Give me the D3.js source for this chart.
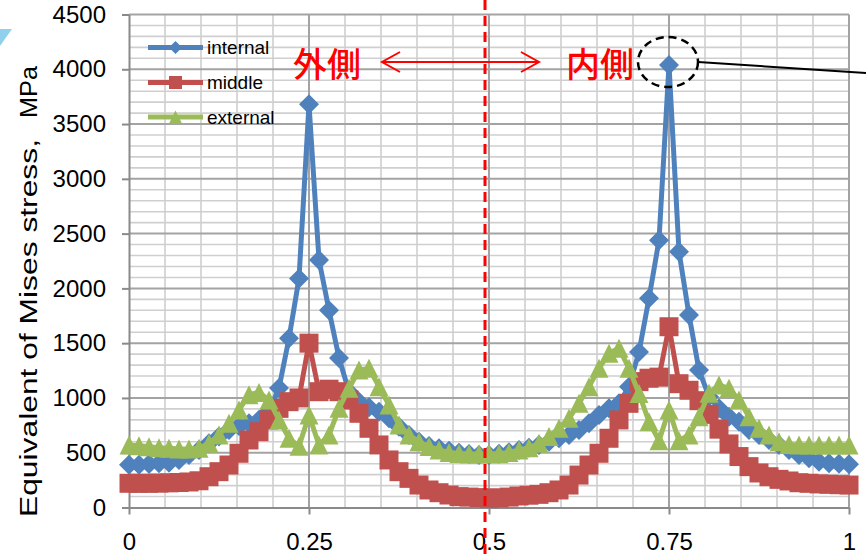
<!DOCTYPE html>
<html>
<head>
<meta charset="utf-8">
<script src="https://cdn.jsdelivr.net/npm/d3@7"></script>
<style>
  body { margin: 0; background: #fff; }
  svg { display: block; font-family: "Liberation Sans", Arial, sans-serif; }
  .grid-minor { stroke: #cfcfcf; stroke-width: 1.6; }
  .grid-major { stroke: #a3a3a3; stroke-width: 2; }
  .axis path, .axis line { stroke: #8a8a8a; stroke-width: 2; }
  .axis text { font-size: 24px; fill: #000; font-family: "Liberation Sans", Arial, sans-serif; }
</style>
</head>
<body>
<svg id="chart" width="866" height="556"></svg>
<script>
// data (5 degree steps, x = position around the ring, 0..1)
const xTicks = [0, 0.25, 0.5, 0.75, 1];
const xTickLabels = ['0', '0.25', '0.5', '0.75', '1'];
const yTicks = [0, 500, 1000, 1500, 2000, 2500, 3000, 3500, 4000, 4500];
const seriesNames = ['internal', 'middle', 'external'];

const internal = [390, 390, 397, 403, 409, 434, 479, 525, 586, 647,
  707, 744, 768, 800, 880, 1090, 1545, 2090, 3680, 2260,
  1800, 1365, 1057, 966, 914, 875, 814, 738, 662, 601,
  561, 540, 519, 500, 488, 479, 480, 490, 505, 525,
  545, 570, 601, 631, 662, 707, 768, 844, 905, 951,
  1103, 1420, 1910, 2440, 4040, 2335, 1757, 1255, 1012, 905,
  829, 783, 707, 662, 616, 570, 525, 479, 449, 418,
  403, 400, 395];

const middle = [221, 221, 221, 223, 225, 228, 233, 244, 281, 327,
  388, 495, 616, 692, 799, 905, 966, 1000, 1500, 1057,
  1080, 1057, 981, 860, 723, 571, 434, 327, 266, 205,
  160, 135, 114, 99, 95, 90, 85, 88, 95, 105,
  112, 120, 135, 160, 205, 296, 388, 495, 632, 799,
  951, 1149, 1180, 1190, 1650, 1130, 1070, 975, 850, 715,
  580, 465, 373, 315, 281, 257, 242, 226, 221, 215,
  212, 208, 205];

const external = [570, 564, 555, 545, 540, 534, 534, 540, 586, 662,
  768, 890, 1030, 1050, 981, 799, 631, 560, 844, 570,
  662, 905, 1088, 1255, 1270, 1103, 936, 753, 662, 601,
  556, 525, 503, 494, 488, 488, 490, 490, 503, 525,
  546, 586, 647, 723, 814, 951, 1103, 1270, 1407, 1453,
  1270, 1040, 783, 610, 890, 610, 662, 829, 1042, 1118,
  1088, 981, 829, 723, 662, 601, 576, 570, 570, 570,
  570, 570, 570];

const yTitle = 'Equivalent of Mises stress,';
const yUnit = 'MPa';

const svg = d3.select('#chart');

const x = d3.scaleLinear().domain([0, 1]).range([129, 849]);
const y = d3.scaleLinear().domain([0, 4500]).range([507.5, 14.5]);

// small decoration at top left corner
svg.append('polygon')
  .attr('points', '0,29 12,29 0,46')
  .attr('fill', '#8fd0ec');

// grid
const grid = svg.append('g');
grid.selectAll('.hmin')
  .data(d3.range(100, 4500, 100).filter(v => v % 500 !== 0))
  .join('line')
  .attr('class', 'grid-minor')
  .attr('x1', x(0)).attr('x2', x(1))
  .attr('y1', d => y(d)).attr('y2', d => y(d));
grid.selectAll('.vmin')
  .data(d3.range(1, 20).map(k => k / 20).filter(v => Math.round(v * 20) % 5 !== 0))
  .join('line')
  .attr('class', 'grid-minor')
  .attr('x1', d => x(d)).attr('x2', d => x(d))
  .attr('y1', y(4500)).attr('y2', y(0));
grid.selectAll('.vmaj')
  .data(xTicks.slice(1))
  .join('line')
  .attr('class', 'grid-major')
  .attr('x1', d => x(d)).attr('x2', d => x(d))
  .attr('y1', y(4500)).attr('y2', y(0));
grid.selectAll('.hmaj')
  .data(yTicks.slice(1))
  .join('line')
  .attr('class', 'grid-major')
  .attr('x1', x(0)).attr('x2', x(1))
  .attr('y1', d => y(d)).attr('y2', d => y(d));

// axes
svg.append('g')
  .attr('class', 'axis')
  .attr('transform', `translate(${x(0)},0)`)
  .call(d3.axisLeft(y).tickValues(yTicks).tickFormat(d3.format('d'))
    .tickSize(7).tickPadding(16).tickSizeOuter(0));

svg.append('g')
  .attr('class', 'axis')
  .attr('transform', `translate(0,${y(0)})`)
  .call(d3.axisBottom(x).tickValues(xTicks).tickFormat((d, i) => xTickLabels[i])
    .tickSize(7).tickPadding(18).tickSizeOuter(0));

// y axis title
svg.append('text')
  .attr('transform', 'translate(37,517) rotate(-90)')
  .attr('text-anchor', 'start')
  .attr('font-size', 23)
  .attr('textLength', 378)
  .attr('lengthAdjust', 'spacingAndGlyphs')
  .text(yTitle);
svg.append('text')
  .attr('transform', 'translate(37,118) rotate(-90)')
  .attr('text-anchor', 'start')
  .attr('font-size', 23)
  .attr('textLength', 52)
  .attr('lengthAdjust', 'spacingAndGlyphs')
  .text(yUnit);

// series
const colors = ['#4F81BD', '#C0504D', '#9BBB59'];
const shapes = ['diamond', 'square', 'triangle'];
const sizes = [20, 19, 19];

function markerPath(shape, s) {
  const h = s / 2;
  if (shape === 'diamond') return `M0,${-h}L${h},0L0,${h}L${-h},0Z`;
  if (shape === 'square') return `M${-h},${-h}H${h}V${h}H${-h}Z`;
  return `M0,${-h}L${h},${h}L${-h},${h}Z`;
}

const allSeries = [internal, middle, external];
const lastIdx = internal.length - 1;
const line = d3.line()
  .x((d, i) => x(i / lastIdx))
  .y(d => y(d));

allSeries.forEach((vals, k) => {
  const g = svg.append('g');
  g.append('path')
    .datum(vals)
    .attr('d', line)
    .attr('fill', 'none')
    .attr('stroke', colors[k])
    .attr('stroke-width', 5)
    .attr('stroke-linejoin', 'round');
  g.selectAll('path.mk')
    .data(vals)
    .join('path')
    .attr('class', 'mk')
    .attr('transform', (d, i) => `translate(${x(i / lastIdx)},${y(d)})`)
    .attr('d', markerPath(shapes[k], sizes[k]))
    .attr('fill', colors[k]);
});

// legend
const legend = svg.append('g');
const legendY = [47.5, 82.5, 117];
seriesNames.forEach((name, k) => {
  legend.append('line')
    .attr('x1', 148).attr('x2', 203)
    .attr('y1', legendY[k]).attr('y2', legendY[k])
    .attr('stroke', colors[k]).attr('stroke-width', 5);
  legend.append('path')
    .attr('transform', `translate(175.5,${legendY[k]})`)
    .attr('d', markerPath(shapes[k], 13))
    .attr('fill', colors[k]);
  legend.append('text')
    .attr('x', 207).attr('y', legendY[k])
    .attr('dy', '0.35em')
    .attr('font-size', 19)
    .text(name);
});

// annotations
const ann = svg.append('g');
ann.append('text')
  .attr('x', 293).attr('y', 62)
  .attr('dominant-baseline', 'central')
  .attr('font-family', '"Noto Sans CJK JP", sans-serif')
  .attr('font-size', 34)
  .attr('font-weight', 500)
  .attr('fill', '#ff0000')
  .text('外側');
ann.append('text')
  .attr('x', 566).attr('y', 62)
  .attr('dominant-baseline', 'central')
  .attr('font-family', '"Noto Sans CJK JP", sans-serif')
  .attr('font-size', 34)
  .attr('font-weight', 500)
  .attr('fill', '#ff0000')
  .text('内側');

ann.append('line')
  .attr('x1', 382).attr('x2', 539)
  .attr('y1', 62).attr('y2', 62)
  .attr('stroke', '#ff0000').attr('stroke-width', 2);
ann.append('polyline')
  .attr('points', '400,52 382,62 400,72')
  .attr('fill', 'none').attr('stroke', '#ff0000').attr('stroke-width', 2);
ann.append('polyline')
  .attr('points', '521,52 539,62 521,72')
  .attr('fill', 'none').attr('stroke', '#ff0000').attr('stroke-width', 2);

// dashed divider at the middle
ann.append('line')
  .attr('x1', 485).attr('x2', 485)
  .attr('y1', 0).attr('y2', 556)
  .attr('stroke', '#ff0000').attr('stroke-width', 3)
  .attr('stroke-dasharray', '10,6');

// callout around the inner peak
ann.append('ellipse')
  .attr('cx', 668).attr('cy', 62)
  .attr('rx', 30).attr('ry', 25)
  .attr('fill', 'none')
  .attr('stroke', '#000').attr('stroke-width', 2.5)
  .attr('stroke-dasharray', '8,5');
ann.append('line')
  .attr('x1', 698).attr('y1', 62)
  .attr('x2', 866).attr('y2', 73)
  .attr('stroke', '#000').attr('stroke-width', 2);
</script>
</body>
</html>
